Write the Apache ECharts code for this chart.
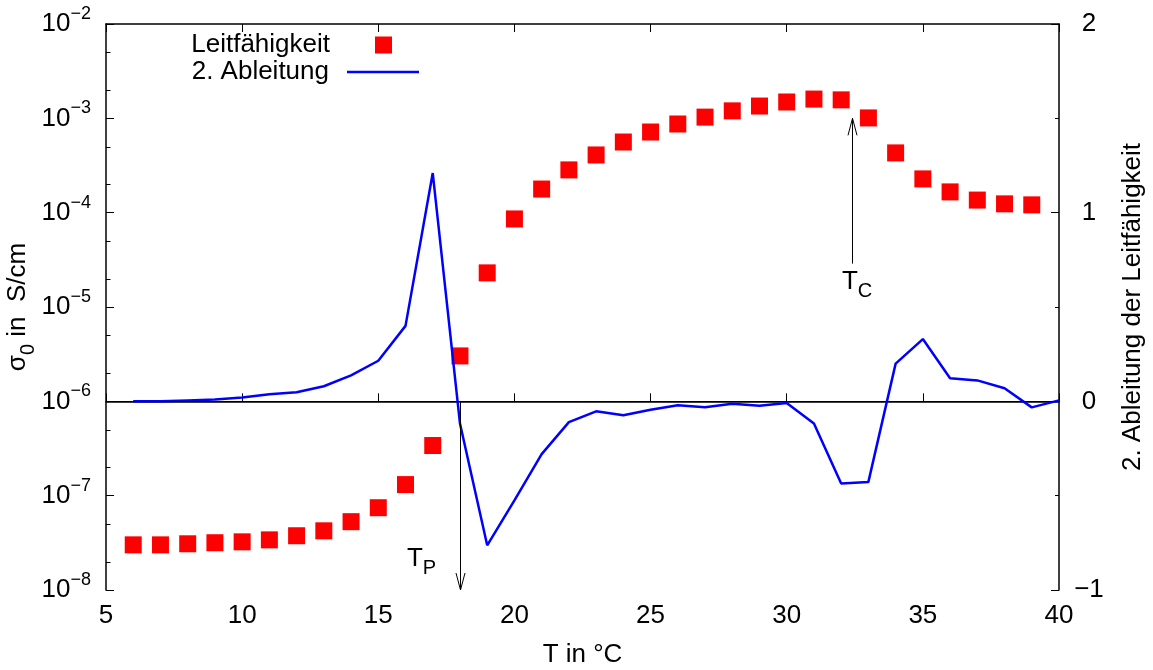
<!DOCTYPE html>
<html><head><meta charset="utf-8">
<script src="https://cdn.jsdelivr.net/npm/echarts@6/dist/echarts.min.js"></script>
<style>html,body{margin:0;padding:0;background:#fff}#c{width:1153px;height:670px}</style>
</head><body><div id="c"></div>
<script>
// ---- data ----
const temps = [6,7,8,9,10,11,12,13,14,15,16,17,18,19,20,21,22,23,24,25,26,27,28,29,30,31,32,33,34,35,36,37,38,39];
const sigma = [3.01e-8,3.01e-8,3.09e-8,3.17e-8,3.24e-8,3.40e-8,3.76e-8,4.24e-8,5.30e-8,7.45e-8,1.31e-7,3.40e-7,
               3.03e-6,2.30e-5,8.58e-5,1.78e-4,2.84e-4,4.09e-4,5.61e-4,7.16e-4,8.71e-4,1.03e-3,1.20e-3,1.35e-3,
               1.49e-3,1.60e-3,1.57e-3,1.01e-3,4.30e-4,2.28e-4,1.66e-4,1.36e-4,1.24e-4,1.21e-4];
const derivT = [6,7,8,9,10,11,12,13,14,15,16,17,18,19,20,21,22,23,24,25,26,27,28,29,30,31,32,33,34,35,36,37,38,39,40];
const deriv = [0,0,0.005,0.01,0.02,0.037,0.048,0.08,0.138,0.215,0.40,1.21,-0.117,-0.763,-0.525,-0.28,-0.11,-0.053,
               -0.074,-0.045,-0.021,-0.031,-0.013,-0.023,-0.009,-0.117,-0.435,-0.427,0.2,0.33,0.122,0.111,0.069,-0.032,0.005];
const seriesNames = ['Leitfähigkeit', '2. Ableitung'];
const xTitle = 'T in °C';
const y2Title = '2. Ableitung der Leitfähigkeit';
const minorTickValues = [2e-8,5e-8,2e-7,5e-7,2e-6,5e-6,2e-5,5e-5,2e-4,5e-4,2e-3,5e-3];
// arrows: [x, yFrom, yTo] on the right-hand axis
const arrows = [[18, 0, -1], [32.4, 0.73, 1.5]];
// annotation labels: [x, y (right axis), main, subscript]
const annotations = [[16.05, -0.784, 'T', 'P'], [32.03, 0.684, 'T', 'C']];

const FONT = 'Liberation Sans, Arial, Helvetica, sans-serif';
const black = '#000';

const chart = echarts.init(document.getElementById('c'), null, {renderer: 'canvas'});

const supRich = {
  b: {fontSize: 26, lineHeight: 26, fontFamily: FONT, color: black, verticalAlign: 'bottom'},
  s: {fontSize: 18, lineHeight: 18, fontFamily: FONT, color: black, verticalAlign: 'bottom', padding: [0, 0, 14, 0]}
};
const subRich = {
  m: {fontSize: 26, lineHeight: 26, fontFamily: FONT, color: black, verticalAlign: 'top'},
  u: {fontSize: 20, lineHeight: 20, fontFamily: FONT, color: black, verticalAlign: 'top', padding: [13, 0, 0, 0]}
};

const axisLine = {show: true, lineStyle: {color: black, width: 1.5}};

const option = {
  animation: false,
  backgroundColor: '#fff',
  textStyle: {fontFamily: FONT},
  grid: {left: 106, right: 94, top: 24, bottom: 80, containLabel: false, outerBoundsMode: 'none'},
  legend: [
    {
      data: [{name: seriesNames[0], icon: 'rect'}],
      orient: 'vertical', align: 'right', right: 761, top: 32, padding: 0,
      itemWidth: 17, itemHeight: 17, selectedMode: false,
      textStyle: {fontSize: 26, lineHeight: 26, color: black, fontFamily: FONT, padding: [0, 40, 0, 0]}
    },
    {
      data: [{name: seriesNames[1], icon: 'rect'}],
      orient: 'vertical', align: 'right', right: 734, top: 59, padding: 0,
      itemWidth: 72, itemHeight: 2.5, selectedMode: false,
      textStyle: {fontSize: 26, lineHeight: 26, color: black, fontFamily: FONT, padding: [0, 13, 0, 0]}
    }
  ],
  xAxis: [
    {
      type: 'value', min: 5, max: 40, interval: 5, position: 'bottom',
      axisLine: axisLine,
      axisTick: {show: true, inside: true, length: 8, lineStyle: {color: black, width: 1}},
      splitLine: {show: false},
      axisLabel: {fontSize: 26, lineHeight: 26, color: black, margin: 13, fontFamily: FONT},
      name: xTitle, nameLocation: 'middle', nameGap: 52, nameMoveOverlap: false,
      nameTextStyle: {fontSize: 26, lineHeight: 26, color: black, fontFamily: FONT}
    },
    {
      type: 'value', min: 5, max: 40, interval: 5, position: 'top',
      axisLine: axisLine,
      axisTick: {show: true, inside: true, length: 8, lineStyle: {color: black, width: 1}},
      splitLine: {show: false},
      axisLabel: {show: false}
    }
  ],
  yAxis: [
    {
      type: 'log', logBase: 10, min: 1e-8, max: 1e-2, interval: 1, position: 'left',
      axisLine: axisLine,
      axisTick: {show: true, inside: true, length: 8, lineStyle: {color: black, width: 1}},
      splitLine: {show: false},
      axisLabel: {
        margin: 15, color: black,
        formatter: function (v) {
          const e = Math.round(Math.log10(v));
          return '{b|10}{s|' + (e < 0 ? '\u2212' + Math.abs(e) : e) + '}';
        },
        rich: supRich
      },
      name: '{m|\u03c3}{u|0}{m| in  S/cm}', nameLocation: 'middle', nameGap: 75, nameMoveOverlap: false,
      nameTextStyle: {rich: subRich, color: black}
    },
    {
      type: 'value', min: -1, max: 2, interval: 1, position: 'right',
      axisLine: axisLine,
      axisTick: {show: true, inside: true, length: 8, lineStyle: {color: black, width: 1}},
      minorTick: {show: true, splitNumber: 2, length: 4, lineStyle: {color: black, width: 1}},
      splitLine: {show: false}, minorSplitLine: {show: false},
      axisLabel: {
        fontSize: 26, lineHeight: 26, color: black, margin: 30, align: 'center', fontFamily: FONT,
        formatter: function (v) { return v < 0 ? '\u2212' + Math.abs(v) : String(v); }
      },
      name: y2Title, nameLocation: 'middle', nameGap: 61, nameMoveOverlap: false,
      nameTextStyle: {fontSize: 26, lineHeight: 26, color: black, fontFamily: FONT}
    }
  ],
  series: [
    {
      name: seriesNames[0], type: 'scatter', xAxisIndex: 0, yAxisIndex: 0,
      symbol: 'rect', symbolSize: 17,
      itemStyle: {color: '#ff0000', opacity: 1},
      data: temps.map(function (t, i) { return [t, sigma[i]]; }),
      z: 2
    },
    {
      name: seriesNames[1], type: 'line', xAxisIndex: 0, yAxisIndex: 1,
      symbol: 'none', showSymbol: false,
      lineStyle: {color: '#0000ff', width: 2.5},
      itemStyle: {color: '#0000ff'},
      data: derivT.map(function (t, i) { return [t, deriv[i]]; }),
      z: 4,
      markLine: {
        silent: true, symbol: 'none', animation: false,
        label: {show: false},
        lineStyle: {color: black, width: 1, type: 'solid'},
        data: [{yAxis: 0}]
      }
    },
    {
      name: 'minorTicks', type: 'custom', xAxisIndex: 0, yAxisIndex: 0, silent: true, z: 5,
      data: minorTickValues.map(function (v) { return [5, v]; }),
      renderItem: function (params, api) {
        const p = api.coord([api.value(0), api.value(1)]);
        const y = Math.round(p[1]) + 0.5;
        return {type: 'line', shape: {x1: p[0], y1: y, x2: p[0] + 4.5, y2: y},
                style: {stroke: black, lineWidth: 1}};
      }
    },
    {
      name: 'arrows', type: 'custom', xAxisIndex: 0, yAxisIndex: 1, silent: true, z: 6,
      data: arrows,
      renderItem: function (params, api) {
        const a = api.coord([api.value(0), api.value(1)]);
        const b = api.coord([api.value(0), api.value(2)]);
        const x = Math.round(a[0]) + 0.5;
        const d = b[1] > a[1] ? 1 : -1;
        return {
          type: 'group',
          children: [
            {type: 'line', shape: {x1: x, y1: a[1], x2: x, y2: b[1]}, style: {stroke: black, lineWidth: 1}},
            {type: 'polyline', shape: {points: [[x - 4.5, b[1] - d * 17], [x, b[1]], [x + 4.5, b[1] - d * 17]]},
             style: {stroke: black, lineWidth: 1, fill: null}}
          ]
        };
      }
    },
    {
      name: 'labels', type: 'custom', xAxisIndex: 0, yAxisIndex: 1, silent: true, z: 6,
      data: annotations,
      renderItem: function (params, api) {
        const p = api.coord([api.value(0), api.value(1)]);
        const item = annotations[params.dataIndex];
        return {
          type: 'text',
          x: p[0], y: p[1] - 3.4,
          style: {text: '{m|' + item[2] + '}{u|' + item[3] + '}', rich: subRich, align: 'left', verticalAlign: 'top'}
        };
      }
    }
  ]
};
chart.setOption(option);
</script>
</body></html>
